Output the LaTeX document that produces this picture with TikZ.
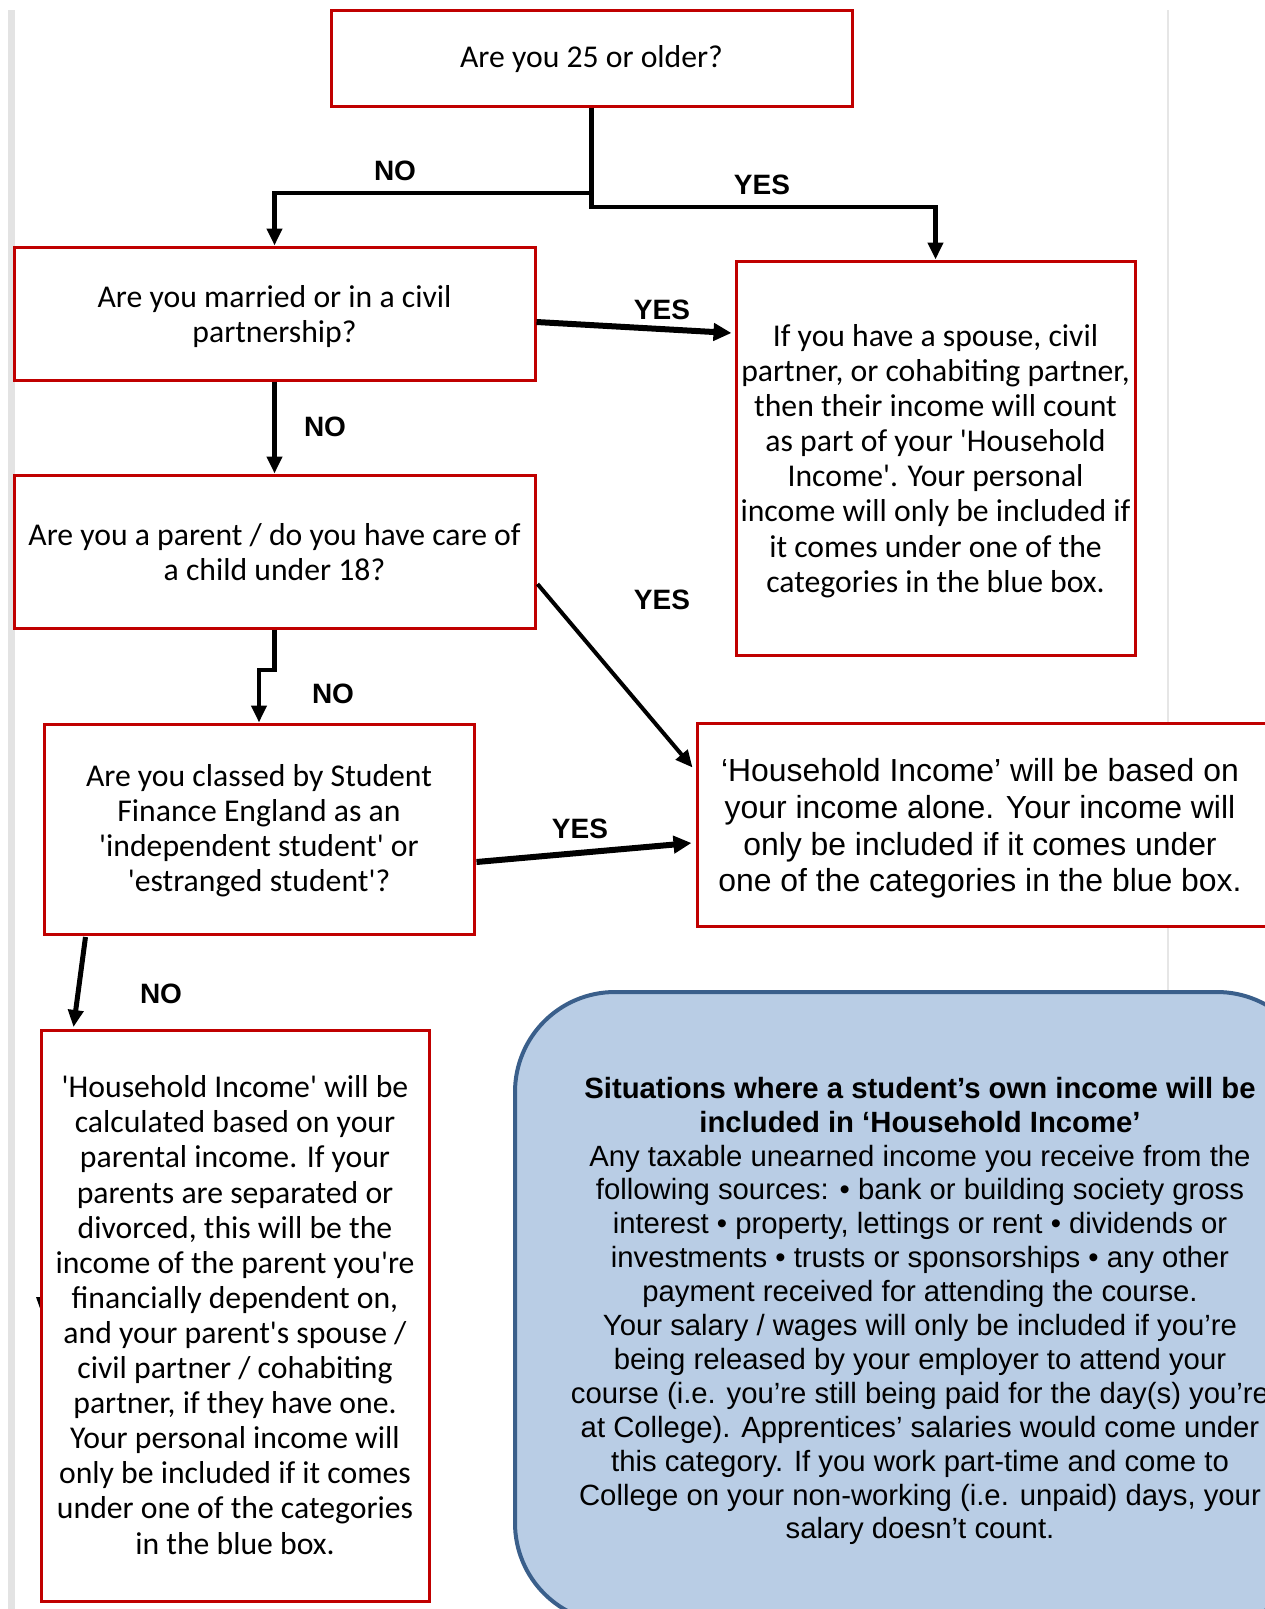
\documentclass[tikz,border=0pt]{standalone}
\usepackage{fontspec}
\newfontfamily\calfont{Carlito}
\newfontfamily\arialfont{Liberation Sans}
\usetikzlibrary{arrows.meta,calc}
\definecolor{boxred}{HTML}{C00000}
\definecolor{bluefill}{HTML}{B9CDE5}
\definecolor{blueline}{HTML}{3A5F8B}
\definecolor{stripgray}{HTML}{E3E3E3}
\definecolor{linegray}{HTML}{E6E6E6}
\begin{document}
\begin{tikzpicture}[x=1pt,y=-1pt,
  redbox/.style={draw=boxred, line width=3pt, fill=white, inner sep=0pt},
  caltext/.style={align=center, inner sep=0pt, font=\calfont\fontsize{31.7}{35.1}\selectfont},
  arialtext/.style={align=center, inner sep=0pt, font=\arialfont\fontsize{31.9}{36.6}\selectfont},
  bluebox/.style={draw=blueline, line width=4pt, fill=bluefill, rounded corners=100pt, inner sep=0pt},
  bluetext/.style={align=center, inner sep=0pt, font=\arialfont\fontsize{29.3}{33.9}\selectfont},
  conn/.style={line width=4.8pt, line join=miter, -{Triangle[length=17pt,width=15pt]}},
  thickconn/.style={line width=6pt, -{Triangle[length=18pt,width=17pt]}},
  lbl/.style={font=\arialfont\bfseries\fontsize{28}{32}\selectfont, inner sep=0pt},
]
\useasboundingbox (0,0) rectangle (1264,1609);
% page strips
\fill[stripgray] (8,10) rectangle (15,1609);
\draw[linegray, line width=1.5pt] (1168,10) -- (1168,1609);

% blue info box
\node[bluebox, minimum width=802pt, minimum height=631pt] (blue) at (916,1307.5) {};
\node[bluetext] (bluetxt) at (920,1311) {\textbf{Situations where a student’s own income will be}\\
\textbf{included in ‘Household Income’}\\
Any taxable unearned income you receive from the\\
following sources: • bank or building society gross\\
interest • property, lettings or rent • dividends or\\
investments • trusts or sponsorships • any other\\
payment received for attending the course.\\
Your salary / wages will only be included if you’re\\
being released by your employer to attend your\\
course (i.e. you’re still being paid for the day(s) you’re\\
at College). Apprentices’ salaries would come under\\
this category. If you work part-time and come to\\
College on your non-working (i.e. unpaid) days, your\\
salary doesn’t count.};

% stray arrowhead left of box 7
\fill (36,1297) -- (46,1297) -- (41,1311) -- cycle;

% boxes
\node[redbox, minimum width=521pt, minimum height=96pt] (b1) at (591.5,58) {};
\node[caltext] (t1) at (591.5,59) {Are you 25 or older?};
\node[redbox, minimum width=521pt, minimum height=133pt] (b2) at (274.5,313.5) {};
\node[caltext] (t2) at (274.5,316.5) {Are you married or in a civil\\partnership?};
\node[redbox, minimum width=399pt, minimum height=394pt] (b3) at (935.5,458) {};
\node[caltext] (t3) at (935.5,461) {If you have a spouse, civil\\partner, or cohabiting partner,\\then their income will count\\as part of your 'Household\\Income'. Your personal\\income will only be included if\\it comes under one of the\\categories in the blue box.};
\node[redbox, minimum width=521pt, minimum height=153pt] (b4) at (274.5,551.5) {};
\node[caltext] (t4) at (274.5,552.5) {Are you a parent / do you have care of\\a child under 18?};
\node[redbox, minimum width=430pt, minimum height=210pt] (b5) at (259,829) {};
\node[caltext] (t5) at (259,831) {Are you classed by Student\\Finance England as an\\'independent student' or\\'estranged student'?};
\node[redbox, minimum width=570pt, minimum height=203pt] (b6) at (982,824.5) {};
\node[arialtext] (t6) at (980,828.5) {‘Household Income’ will be based on\\your income alone. Your income will\\only be included if it comes under\\one of the categories in the blue box.};
\node[redbox, minimum width=388pt, minimum height=571pt] (b7) at (235,1315.5) {};
\node[caltext] (t7) at (235,1315) {'Household Income' will be\\calculated based on your\\parental income. If your\\parents are separated or\\divorced, this will be the\\income of the parent you're\\financially dependent on,\\and your parent's spouse /\\civil partner / cohabiting\\partner, if they have one.\\Your personal income will\\only be included if it comes\\under one of the categories\\in the blue box.};

% connectors
\coordinate (j1) at (591.5,193);
\coordinate (j2) at (591.5,207);
\coordinate (j3) at (259,670);
\draw[conn] (b1.south) -- (j1) -| (b2.north);
\draw[conn] (b1.south) -- (j2) -| (b3.north);
\draw[thickconn] ($(b2.east)+(0,8.5)$) -- ($(b3.west)+(-3,-125)$);
\draw[conn] (b2.south) -- (b4.north);
\draw[conn] (b4.south) |- (j3) -- (b5.north);
\draw[line width=4pt, -{Triangle[length=17pt,width=15pt]}] ($(b4.east)+(1,32.5)$) -- ($(b6.west)+(-3,-57)$);
\draw[thickconn] ($(b5.east)+(1,33)$) -- ($(b6.west)+(-4,18.5)$);
\draw[line width=5pt, -{Triangle[length=17pt,width=15pt]}] ($(b5.south west)+(43,1.5)$) -- ($(b7.north west)+(34,-1.5)$);

% labels
\node[lbl] (l1) at (395,171) {NO};
\node[lbl] (l2) at (762,185) {YES};
\node[lbl] (l3) at (662,310) {YES};
\node[lbl] (l4) at (325,427) {NO};
\node[lbl] (l5) at (662,600) {YES};
\node[lbl] (l6) at (333,694) {NO};
\node[lbl] (l7) at (580,829) {YES};
\node[lbl] (l8) at (161,994) {NO};
\end{tikzpicture}
\end{document}
